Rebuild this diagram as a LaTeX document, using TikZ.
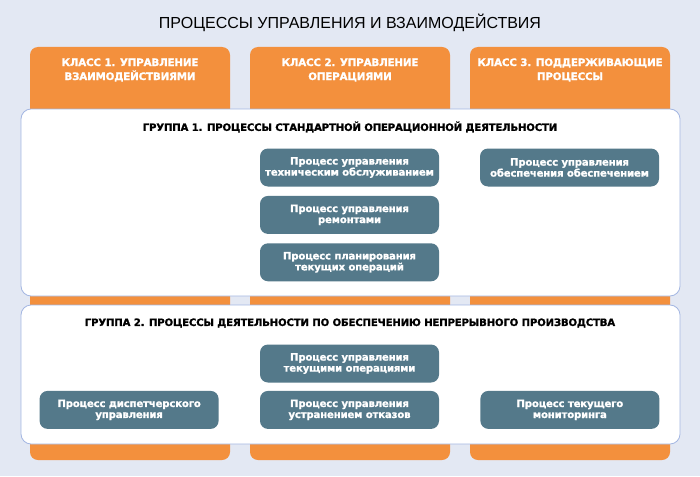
\documentclass[tikz,border=0pt]{standalone}
\usepackage{fontspec}
\setmainfont{Liberation Sans}
\newfontfamily\dejavu{DejaVu Sans Bold}[FakeBold=1.2,LetterSpace=-1.5]
\usetikzlibrary{positioning}
\definecolor{pagebg}{HTML}{E3E8F3}
\definecolor{classorange}{HTML}{F3903D}
\definecolor{groupline}{HTML}{A3B6E2}
\definecolor{procteal}{HTML}{54798A}
\begin{document}
\begin{tikzpicture}
		[x=1pt,y=-1pt,
		column/.style={fill=classorange,rounded corners=8pt},
		group/.style={draw=groupline,fill=white,line width=0.8pt,rounded corners=10pt},
		classtitle/.style={text=white,align=center,font=\dejavu\fontsize{10.3}{14}\selectfont},
		grouptitle/.style={font=\dejavu\fontsize{10.1}{12}\selectfont},
		block/.style={
		rectangle,
		fill=procteal,
		rounded corners=8pt,
		minimum width=179pt,
		minimum height=38pt,
		inner sep=0pt,
		text=white,
		align=center,
		font=\dejavu\fontsize{10.1}{11}\selectfont}
		]
		\fill[pagebg] (0,0) rectangle (700,476);
		\node(title) at (350,23) {\fontsize{16}{18}\selectfont ПРОЦЕССЫ УПРАВЛЕНИЯ И ВЗАИМОДЕЙСТВИЯ};
		% classes
		\path[column] (30,47) rectangle (230,460);
		\path[column] (250,47) rectangle (450,460);
		\path[column] (470,47) rectangle (670,460);
		\node[classtitle](class1) at (130,70) {КЛАСС 1. УПРАВЛЕНИЕ\\ВЗАИМОДЕЙСТВИЯМИ};
		\node[classtitle](class2) at (350,70) {КЛАСС 2. УПРАВЛЕНИЕ\\ОПЕРАЦИЯМИ};
		\node[classtitle](class3) at (570,70) {КЛАСС 3. ПОДДЕРЖИВАЮЩИЕ\\ПРОЦЕССЫ};
		% groups
		\draw[group] (21,109) rectangle (680,296);
		\draw[group] (21,305) rectangle (680,444);
		\node[grouptitle](group1) at (350,127) {ГРУППА 1. ПРОЦЕССЫ СТАНДАРТНОЙ ОПЕРАЦИОННОЙ ДЕЯТЕЛЬНОСТИ};
		\node[grouptitle](group2) at (350,323) {ГРУППА 2. ПРОЦЕССЫ ДЕЯТЕЛЬНОСТИ ПО ОБЕСПЕЧЕНИЮ НЕПРЕРЫВНОГО ПРОИЗВОДСТВА};
		% group 1
		\node[block](maintenance) at (349.5,167.5) {Процесс управления\\техническим обслуживанием};
		\node[block,below=9pt of maintenance](repairs) {Процесс управления\\ремонтами};
		\node[block,below=9pt of repairs](planning) {Процесс планирования\\текущих операций};
		\node[block](supply) at (569.5,167.5) {Процесс управления\\обеспечения обеспечением};
		% group 2
		\node[block](current_ops) at (349.5,363.5) {Процесс управления\\текущими операциями};
		\node[block,below=8pt of current_ops](failures) {Процесс управления\\устранением отказов};
		\node[block,left=41pt of failures](dispatch) {Процесс диспетчерского\\управления};
		\node[block,right=41pt of failures](monitoring) {Процесс текущего\\мониторинга};
		\end{tikzpicture}
\end{document}
